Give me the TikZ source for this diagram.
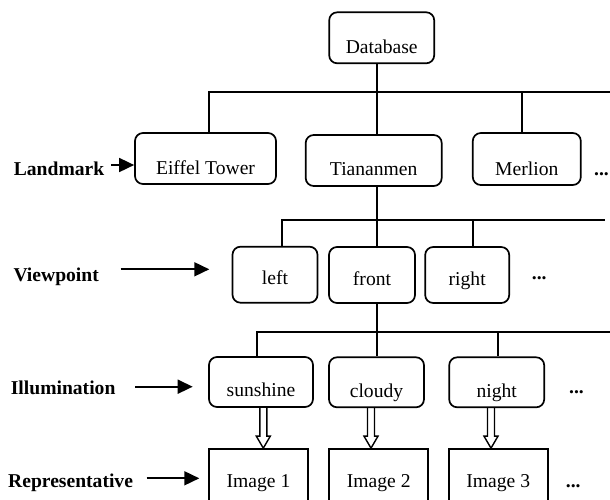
\documentclass[tikz,border=0pt]{standalone}
\usepackage{fontspec}
\setmainfont{Liberation Serif}
\usetikzlibrary{arrows.meta,calc}

\newcommand{\boxfont}{\fontsize{19.6}{23}\selectfont}

\begin{document}
\begin{tikzpicture}[
    x=1pt, y=-1pt,
    line width=1.7pt,
    box/.style={draw, rounded corners=8pt, inner sep=2pt, text depth=0pt, font=\boxfont},
    lvlone/.style={box, minimum height=51pt, text height=32pt},
    lvltwo/.style={box, minimum height=56pt, text height=20pt},
    lvlthree/.style={box, minimum height=50pt, text height=29.5pt},
    imgbox/.style={draw, inner sep=2pt, minimum height=62pt, text height=14.6pt, text depth=0pt, font=\boxfont},
    tag/.style={anchor=base west, inner sep=0pt, font=\boxfont\bfseries},
    more/.style={anchor=base west, inner sep=0pt, font=\boxfont\bfseries},
    pointer/.style={-{Triangle[length=15pt,width=14pt]}},
    hollow/.style={line width=1.4pt}
]
    \useasboundingbox (0,0) rectangle (610,499);

    % Корень
    \node[lvlone, minimum width=105pt, text height=31pt] (db) at (381.7,37.8) {Database};

    % Достопримечательности
    \node[lvlone, minimum width=141pt] (eiffel) at (205.5,158.5) {Eiffel Tower};
    \node[lvlone, minimum width=136pt, text height=30pt] (tian) at (373.7,160.5) {Tiananmen};
    \node[lvlone, minimum width=108pt, minimum height=52pt] (merlion) at (526.8,159) {Merlion};
    \node[more] (dotsA) at (593.3,175) {...};

    % Ракурсы
    \node[lvltwo, minimum width=85pt] (left) at (275,274.7) {left};
    \node[lvltwo, minimum width=86pt] (front) at (372,275) {front};
    \node[lvltwo, minimum width=84pt] (right) at (467.2,275) {right};
    \node[more] (dotsB) at (531,279) {...};

    % Освещение
    \node[lvlthree, minimum width=104pt] (sunshine) at (261,382) {sunshine};
    \node[lvlthree, minimum width=95pt] (cloudy) at (376.5,382.3) {cloudy};
    \node[lvlthree, minimum width=95pt] (night) at (496.7,382.3) {night};
    \node[more] (dotsC) at (568.3,393) {...};

    % Изображения
    \node[imgbox, minimum width=99pt] (img1) at (258.5,480) {Image 1};
    \node[imgbox, minimum width=99pt] (img2) at (378.7,480) {Image 2};
    \node[imgbox, minimum width=99pt] (img3) at (498.3,480) {Image 3};
    \node[more] (dotsD) at (565,487) {...};

    % Шины уровней
    \coordinate (j1) at (377.3,91.7);
    \coordinate (e1) at (209,91.7);
    \coordinate (m1) at (521.7,91.7);
    \coordinate (end1) at (610,91.7);
    \draw (e1 |- eiffel.north) -- (e1) -- (end1);
    \draw (j1 |- db.south) -- (j1 |- tian.north);
    \draw (m1) -- (m1 |- merlion.north);

    \coordinate (j2) at (377.3,220);
    \coordinate (l2) at (281.7,220);
    \coordinate (r2) at (473.3,220);
    \coordinate (end2) at (605,220);
    \draw (l2 |- left.north) -- (l2) -- (end2);
    \draw (j2 |- tian.south) -- (j2 |- front.north);
    \draw (r2) -- (r2 |- right.north);

    \coordinate (j3) at (377.3,331.7);
    \coordinate (s3) at (256.7,331.7);
    \coordinate (n3) at (497.7,331.7);
    \coordinate (end3) at (610,331.7);
    \draw (s3 |- sunshine.north) -- (s3) -- (end3);
    \draw (j3 |- front.south) -- (j3 |- cloudy.north);
    \draw (n3) -- (n3 |- night.north);

    % Полые стрелки к изображениям
    \foreach \src/\dst/\dx in {sunshine/img1/2.3, cloudy/img2/-5.5, night/img3/-5.7}
        \draw[hollow] let \p1=([xshift=\dx pt]\src.south), \p2=(\dst.north) in
            (\x1-3.5pt,\y1) -- (\x1-3.5pt,\y2+12pt) -- (\x1-7pt,\y2+12pt) -- (\x1,\y2)
            -- (\x1+7pt,\y2+12pt) -- (\x1+3.5pt,\y2+12pt) -- (\x1+3.5pt,\y1);

    % Подписи уровней
    \node[tag] (lm) at (13,175) {Landmark};
    \coordinate (lmtail) at (111,165);
    \draw[pointer] (lmtail) -- (lmtail -| eiffel.west);

    \node[tag] (vp) at (12.7,281.7) {Viewpoint};
    \coordinate (vptail) at (120.7,269.3);
    \coordinate (vptip) at (209.3,269.3);
    \draw[pointer] (vptail) -- (vptip);

    \node[tag] (il) at (10,394) {Illumination};
    \coordinate (iltail) at (135,386.7);
    \coordinate (iltip) at (192.7,386.7);
    \draw[pointer] (iltail) -- (iltip);

    \node[tag] (rep) at (7.3,487.3) {Representative};
    \coordinate (reptail) at (146.7,478.3);
    \coordinate (reptip) at (199.3,478.3);
    \draw[pointer] (reptail) -- (reptip);
\end{tikzpicture}
\end{document}
